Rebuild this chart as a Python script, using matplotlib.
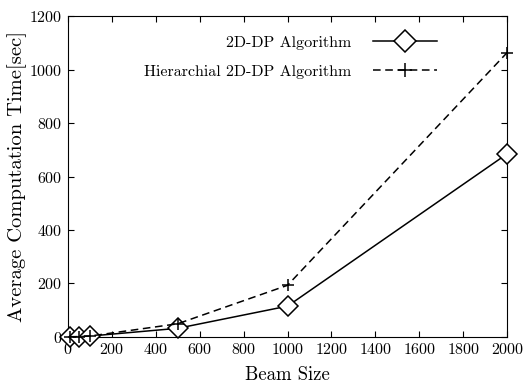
import matplotlib
matplotlib.use("Agg")
import matplotlib.pyplot as plt

plt.rcParams['font.family'] = 'serif'
plt.rcParams['font.serif'] = ['cmr10', 'DejaVu Serif']
plt.rcParams['axes.formatter.use_mathtext'] = True

# Beam size vs average computation time
beam = [10, 50, 100, 500, 1000, 2000]
time_2ddp = [0.5, 1, 3, 32, 115, 685]
time_hier = [0.5, 1, 3, 49, 193, 1064]

fig = plt.figure(figsize=(5.3, 3.85), dpi=100)
ax = fig.add_axes([0.128, 0.125, 0.829, 0.833])

ax.plot(beam, time_2ddp, 'k-', marker='D', markersize=10, markerfacecolor='white',
        markeredgewidth=1.1, linewidth=1.1, clip_on=False, zorder=3,
        label='2D-DP Algorithm')
ax.plot(beam, time_hier, color='k', linestyle=(0, (5, 3)), marker='+', markersize=9,
        markeredgewidth=1.1, linewidth=1.1, clip_on=False, zorder=3,
        label='Hierarchial 2D-DP Algorithm')

ax.set_xlim(0, 2000)
ax.set_ylim(0, 1200)
ax.set_xticks(range(0, 2001, 200))
ax.set_yticks(range(0, 1201, 200))
ax.tick_params(direction='in', top=True, right=True, length=4, labelsize=11.5, pad=4)
for s in ax.spines.values():
    s.set_linewidth(0.8)

ax.set_xlabel('Beam Size', fontsize=13.5, labelpad=6)
ax.set_ylabel('Average Computation Time[sec]', fontsize=14.8, labelpad=1.5)

ax.legend(loc='upper left', bbox_to_anchor=(0.14, 0.985), frameon=False, markerfirst=False,
          fontsize=11.5, handlelength=4.0, handletextpad=1.4, labelspacing=0.95,
          markerscale=1.1)

fig.savefig('out.png')
